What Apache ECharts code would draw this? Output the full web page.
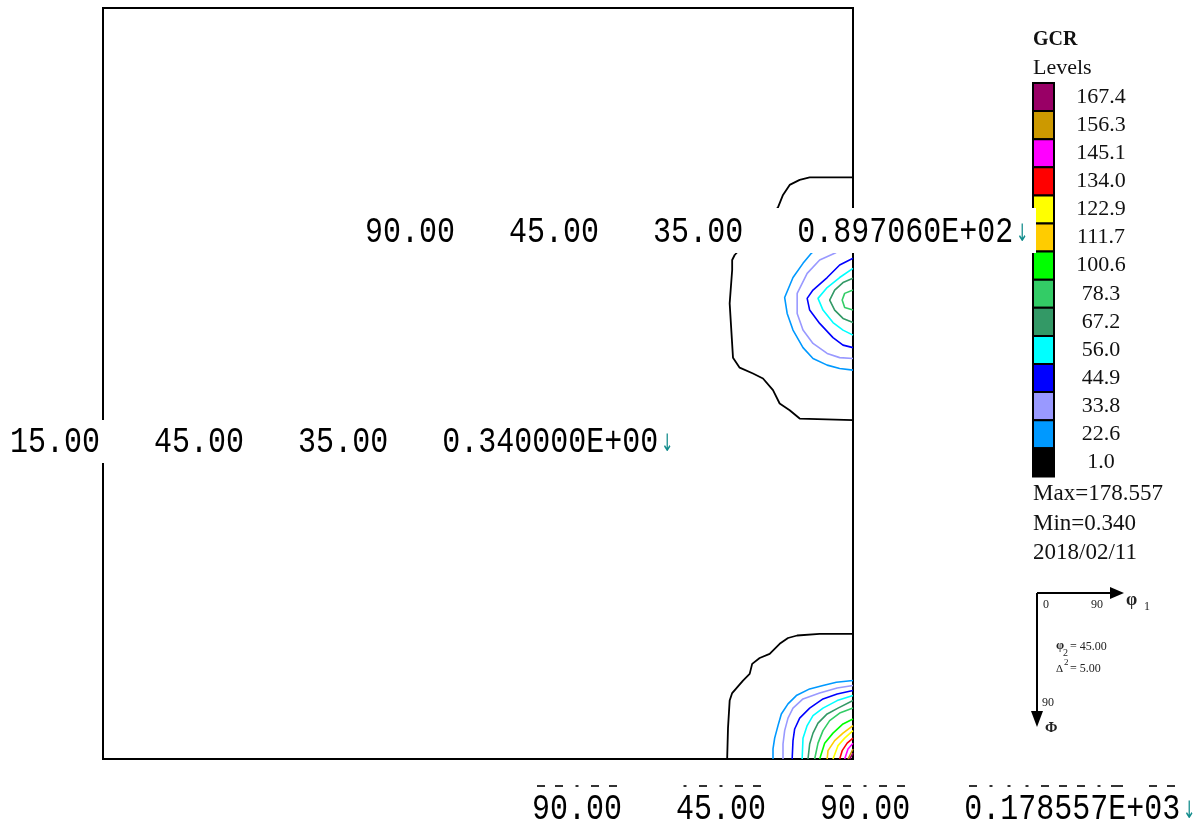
<!DOCTYPE html>
<html><head><meta charset="utf-8">
<script src="https://cdn.jsdelivr.net/npm/echarts@6/dist/echarts.min.js"></script>
<style>html,body{margin:0;padding:0;background:#fff;}#c{width:1203px;height:829px;}</style>
</head><body><div id="c"></div>
<script>
// Contour levels (legend, top to bottom) and their colours
const levels = [167.4,156.3,145.1,134.0,122.9,111.7,100.6,78.3,67.2,56.0,44.9,33.8,22.6,1.0];
const levelColors = ['#990066','#CC9900','#FF00FF','#FF0000','#FFFF00','#FFCC00','#00FF00','#33CC66','#339966','#00FFFF','#0000FF','#9999FF','#0099FF','#000000'];

// Contour lines around the peak at (phi1=90, Phi=35): [phi1, Phi] in degrees
const contourUpper = {
  '1.0':  [[90,20.3],[84.8,20.3],[83.6,20.6],[82.4,21.2],[81.6,22.4],[81.0,23.9],[78.8,26.4],[75.8,29.6],[75.5,30.2],[75.5,31.4],[75.2,35.4],[75.6,41.9],[76.4,43.1],[78.0,43.8],[79.2,44.4],[80.4,45.8],[81.2,47.4],[82.4,48.2],[83.6,49.2],[90,49.4]],
  '22.6': [[90,26.0],[87.8,27.2],[85.4,29.0],[85.0,29.4],[84.0,30.6],[82.8,32.3],[81.8,34.7],[82.1,36.6],[82.8,38.6],[84.0,40.7],[85.2,42.0],[86.9,42.8],[88.4,43.2],[90,43.4]],
  '33.8': [[90,27.8],[88.4,29.0],[87.8,29.4],[86.0,30.2],[84.5,31.8],[83.3,34.2],[83.3,36.6],[84.0,38.6],[85.2,40.2],[86.9,41.4],[88.4,41.9],[90,42.0]],
  '44.9': [[90,30.0],[88.4,30.8],[86.9,32.3],[85.2,33.8],[84.5,34.8],[84.8,36.2],[86.0,37.8],[87.6,39.5],[88.8,40.4],[90,40.7]],
  '56.0': [[90,31.2],[88.4,32.3],[86.9,33.5],[85.8,34.8],[86.4,36.2],[87.6,37.7],[88.8,38.6],[90,39.2]],
  '67.2': [[90,32.4],[88.8,32.9],[87.8,33.8],[87.2,35.0],[87.8,36.2],[88.8,37.2],[90,37.7]],
  '78.3': [[90,33.8],[89.0,34.2],[88.7,35.0],[89.0,35.9],[90,36.2]]
};
// Contour lines around the maximum at (phi1=90, Phi=90)
const contourLower = {
  '1.0':   [[90,75.0],[86.0,75.0],[83.3,75.2],[82.2,75.5],[81.2,76.2],[80.0,77.4],[78.8,77.9],[77.9,78.6],[77.6,79.8],[76.8,80.6],[75.5,82.1],[75.2,83.0],[75.0,86.3],[74.9,90]],
  '22.6':  [[90,80.6],[88.0,80.8],[86.4,81.2],[84.8,81.6],[83.2,82.4],[82.2,83.4],[81.4,84.6],[81.0,86.0],[80.6,87.5],[80.4,88.8],[80.4,90]],
  '33.8':  [[90,81.2],[88.1,81.5],[86.0,82.1],[84.0,82.8],[82.8,83.9],[82.2,85.1],[81.8,86.6],[81.6,88.2],[81.6,90]],
  '44.9':  [[90,81.8],[88.1,82.2],[86.4,82.8],[84.8,83.9],[83.6,85.1],[83.0,86.4],[82.8,87.8],[82.7,90]],
  '56.0':  [[90,82.4],[88.1,83.0],[86.4,83.9],[85.2,84.8],[84.5,86.0],[84.0,87.5],[83.9,90]],
  '67.2':  [[90,83.0],[88.2,83.9],[86.9,84.6],[85.8,85.7],[85.2,86.9],[84.8,88.2],[84.6,90]],
  '78.3':  [[90,83.9],[88.4,84.5],[87.2,85.4],[86.4,86.6],[85.8,88.1],[85.4,90]],
  '100.6': [[90,85.2],[88.8,85.8],[87.6,86.9],[86.6,88.1],[86.0,90]],
  '111.7': [[90,86.0],[88.8,86.9],[87.8,87.8],[87.0,89.0],[86.9,90]],
  '122.9': [[90,86.6],[89.0,87.5],[88.2,88.4],[87.6,90]],
  '134.0': [[90,87.5],[89.3,88.1],[88.7,89.0],[88.4,90]],
  '145.1': [[90,88.1],[89.4,88.8],[89.0,90]],
  '156.3': [[90,88.8],[89.4,90]],
  '167.4': [[90,89.3],[89.6,90]]
};

// Printed annotation rows: phi1, phi2, Phi, value
const rowPeak = ['90.00','45.00','35.00','0.897060E+02'];
const rowMin  = ['15.00','45.00','35.00','0.340000E+00'];
const rowMax  = ['90.00','45.00','90.00','0.178557E+03'];
const statLines = ['Max=178.557','Min=0.340','2018/02/11'];
const sectionInfo = ['45.00','5.00'];

const chart = echarts.init(document.getElementById('c'), null, {renderer:'canvas'});

const series = [];
levels.forEach((lv, i) => {
  const key = lv.toFixed(1);
  [contourUpper, contourLower].forEach(src => {
    if (src[key]) series.push({
      type:'line', name:key, data:src[key], showSymbol:false, symbol:'none',
      lineStyle:{color:levelColors[i], width: lv === 1.0 ? 1.8 : 1.6},
      animation:false, silent:true, z:3
    });
  });
});

const G = [];
const MONO = '"Liberation Mono", monospace';
function txt(x, y, text, font, fill, align, extra, styleExtra) {
  return Object.assign({type:'text', x:x, y:y, z:101, silent:true,
    style:Object.assign({text:text, font:font, fill:fill||'#000', align:align||'left', verticalAlign:'middle', textAlign:align||'left', textVerticalAlign:'middle'}, styleExtra||{})}, extra||{});
}
function annotRow(x0, yc, fields, boxL, boxR, boxT, boxB) {
  G.push({type:'rect', z:100, silent:true, shape:{x:boxL, y:boxT, width:boxR-boxL, height:boxB-boxT}, style:{fill:'#fff'}});
  G.push(txt(x0, yc, fields.join('   '), '37px ' + MONO, '#000', 'left', {scaleX:0.811}, {stroke:'#fff', lineWidth:1.2}));
  G.push(txt(x0 + 651, yc + 3, '\u2193', '24px "DejaVu Sans"', '#128c8c', 'left', {scaleX:0.62}));
}
annotRow(365, 232, rowPeak, 360, 1036, 208, 253);
annotRow(10, 442, rowMin, 4, 680, 420, 463);
// clipped bottoms of a row above the last row
(function(){
  const s = rowMax.join('   ');
  for (let k = 0; k < s.length; k++) {
    const ch = s[k];
    if (ch === ' ' || ch === '+') continue;
    const cx = 532 + k*18 + 9;
    let w = 8;
    if (ch === '.' || ch === '4' || ch === '7' || ch === '1') w = 3;
    if (ch === 'E') w = 12;
    G.push({type:'rect', z:99, silent:true, shape:{x:cx - w/2, y:785, width:w, height:2}, style:{fill:'#333'}});
  }
})();
annotRow(532, 809, rowMax, 527, 1203, 789, 829);

// Legend
const SERIF = '"Liberation Serif", "Times New Roman", serif';
G.push(txt(1033, 40, 'GCR', 'bold 20px ' + SERIF, '#111'));
G.push(txt(1033, 68, 'Levels', '22px ' + SERIF, '#111'));
const swTop = 83, swH = 28.1;
levels.forEach((lv, i) => {
  G.push({type:'rect', z:99, silent:true, shape:{x:1033, y:swTop + i*swH, width:21, height:swH}, style:{fill:levelColors[i], stroke:'#000', lineWidth:2}});
  G.push(txt(1101, swTop + i*swH + swH/2, lv.toFixed(1), '22px ' + SERIF, '#111', 'center'));
});
statLines.forEach((s, i) => G.push(txt(1033, 494 + i*29.5, s, '23px ' + SERIF, '#111')));

// Axis key diagram
G.push({type:'line', z:102, silent:true, shape:{x1:1037, y1:593, x2:1114, y2:593}, style:{stroke:'#000', lineWidth:2}});
G.push({type:'polygon', z:102, silent:true, shape:{points:[[1110,587],[1124,593],[1110,599]]}, style:{fill:'#000'}});
G.push({type:'line', z:102, silent:true, shape:{x1:1037, y1:593, x2:1037, y2:715}, style:{stroke:'#000', lineWidth:2}});
G.push({type:'polygon', z:102, silent:true, shape:{points:[[1031,711],[1037,727],[1043,711]]}, style:{fill:'#000'}});
G.push(txt(1043, 605, '0', '12px ' + SERIF, '#222'));
G.push(txt(1091, 605, '90', '12px ' + SERIF, '#222'));
G.push(txt(1126, 600, '\u03c6', 'bold 18px ' + SERIF, '#222'));
G.push(txt(1144, 607, '1', '12px ' + SERIF, '#222'));
G.push(txt(1056, 646, '\u03c6', 'bold 13px ' + SERIF, '#222'));
G.push(txt(1063, 653, '2', '10px ' + SERIF, '#222'));
G.push(txt(1070, 647, '= ' + sectionInfo[0], '12px ' + SERIF, '#222'));
G.push(txt(1056, 669, '\u0394', '11px ' + SERIF, '#222'));
G.push(txt(1064, 663, '2', '9px ' + SERIF, '#222'));
G.push(txt(1070, 669, '= ' + sectionInfo[1], '12px ' + SERIF, '#222'));
G.push(txt(1042, 703, '90', '12px ' + SERIF, '#222'));
G.push(txt(1045, 728, '\u03a6', 'bold 15px ' + SERIF, '#222'));

chart.setOption({
  animation:false,
  backgroundColor:'#fff',
  grid:{left:103, top:8, width:750, height:751, show:true, borderColor:'#000', borderWidth:2, backgroundColor:'#fff', containLabel:false},
  xAxis:{type:'value', min:0, max:90, show:false},
  yAxis:{type:'value', min:0, max:90, inverse:true, show:false},
  series:series,
  graphic:{elements:G}
});
</script></body></html>
